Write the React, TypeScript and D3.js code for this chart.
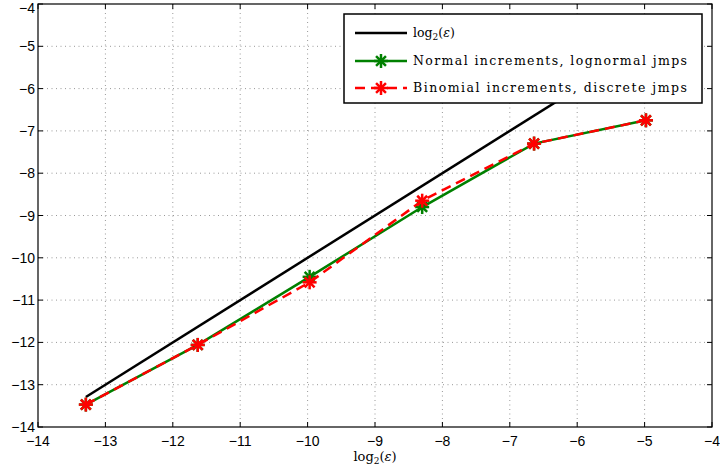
import React from "react";
import * as d3 from "d3";

// x positions (log2 of step size)
const xVals = [-13.29, -11.63, -9.97, -8.3, -6.64, -4.98];
const refLine = [-13.29, -4.98]; // y = x
const normalErr = [-13.47, -12.06, -10.45, -8.8, -7.3, -6.75];
const binomErr = [-13.47, -12.06, -10.58, -8.65, -7.3, -6.75];
const xTicks = [-14, -13, -12, -11, -10, -9, -8, -7, -6, -5, -4];
const yTicks = [-14, -13, -12, -11, -10, -9, -8, -7, -6, -5, -4];
const legendLabels = ["Normal increments, lognormal jmps", "Binomial increments, discrete jmps"];

const W = 720;
const H = 474;
const m = { left: 38, right: 8, top: 4, bottom: 47 };

const Star = ({ x, y, color, r = 7 }: { x: number; y: number; color: string; r?: number }) => {
  const d = r * Math.SQRT1_2;
  return (
    <g stroke={color} strokeWidth={2.5} strokeLinecap="butt">
      <line x1={x - r} y1={y} x2={x + r} y2={y} />
      <line x1={x} y1={y - r} x2={x} y2={y + r} />
      <line x1={x - d} y1={y - d} x2={x + d} y2={y + d} />
      <line x1={x - d} y1={y + d} x2={x + d} y2={y - d} />
    </g>
  );
};

const minus = (v: number) => String(v).replace("-", "\u2212");

export default function App() {
  const x = d3.scaleLinear().domain([-14, -4]).range([m.left, W - m.right]);
  const y = d3.scaleLinear().domain([-14, -4]).range([H - m.bottom, m.top]);
  const line = d3
    .line<[number, number]>()
    .x((d) => x(d[0]))
    .y((d) => y(d[1]));

  const normalPts = xVals.map((v, i) => [v, normalErr[i]] as [number, number]);
  const binomPts = xVals.map((v, i) => [v, binomErr[i]] as [number, number]);
  const refPts = refLine.map((v) => [v, v] as [number, number]);

  const x0 = m.left, x1 = W - m.right, y0 = m.top, y1 = H - m.bottom;
  const tick = 5;

  const lgX = 344, lgY = 14, lgW = 358, lgH = 89;
  const rowY = [33, 61, 88];

  return (
    <svg width={W} height={H} style={{ position: "absolute", left: 0, top: 0, background: "#fff" }}
      fontFamily="'Liberation Sans', Arial, sans-serif">
      <rect x={0} y={0} width={W} height={H} fill="#fff" />
      {/* grid */}
      <g stroke="#999" strokeWidth={1} strokeDasharray="1 3.5">
        {xTicks.slice(1, -1).map((t) => (
          <line key={"gx" + t} x1={x(t)} x2={x(t)} y1={y0} y2={y1} />
        ))}
        {yTicks.slice(1, -1).map((t) => (
          <line key={"gy" + t} y1={y(t)} y2={y(t)} x1={x0} x2={x1} />
        ))}
      </g>
      {/* ticks on all sides */}
      <g stroke="#000" strokeWidth={1}>
        {xTicks.map((t) => (
          <g key={"tx" + t}>
            <line x1={x(t)} x2={x(t)} y1={y1} y2={y1 - tick} />
            <line x1={x(t)} x2={x(t)} y1={y0} y2={y0 + tick} />
          </g>
        ))}
        {yTicks.map((t) => (
          <g key={"ty" + t}>
            <line y1={y(t)} y2={y(t)} x1={x0} x2={x0 + tick} />
            <line y1={y(t)} y2={y(t)} x1={x1} x2={x1 - tick} />
          </g>
        ))}
      </g>
      {/* data */}
      <path d={line(refPts) || ""} fill="none" stroke="#000" strokeWidth={2.5} />
      <path d={line(normalPts) || ""} fill="none" stroke="#008000" strokeWidth={2.5} />
      {normalPts.map((p, i) => (
        <Star key={"n" + i} x={x(p[0])} y={y(p[1])} color="#008000" />
      ))}
      <path d={line(binomPts) || ""} fill="none" stroke="#ff0000" strokeWidth={2.5} strokeDasharray="10 6" />
      {binomPts.map((p, i) => (
        <Star key={"b" + i} x={x(p[0])} y={y(p[1])} color="#ff0000" />
      ))}
      {/* box */}
      <rect x={x0} y={y0} width={x1 - x0} height={y1 - y0} fill="none" stroke="#000" strokeWidth={1.2} />
      {/* tick labels */}
      <g fontSize={14} fill="#000">
        {xTicks.map((t) => (
          <text key={"lx" + t} x={x(t)} y={y1 + 19} textAnchor="middle">{minus(t)}</text>
        ))}
        {yTicks.map((t) => (
          <text key={"ly" + t} x={x0 - 3} y={Math.max(y(t) + 5, 13)} textAnchor="end">{minus(t)}</text>
        ))}
      </g>
      {/* x title */}
      <text x={(x0 + x1) / 2} y={y1 + 34} textAnchor="middle" fontFamily="'DejaVu Serif', serif" fontSize={13}>
        log<tspan fontSize={9} dy={3}>2</tspan><tspan dy={-3}>(</tspan><tspan fontStyle="italic">ε</tspan>)
      </text>
      {/* legend */}
      <rect x={lgX} y={lgY} width={lgW} height={lgH} fill="#fff" stroke="#000" strokeWidth={1.5} />
      <line x1={355} x2={407} y1={rowY[0]} y2={rowY[0]} stroke="#000" strokeWidth={2.5} />
      <line x1={355} x2={407} y1={rowY[1]} y2={rowY[1]} stroke="#008000" strokeWidth={2.5} />
      <Star x={381} y={rowY[1]} color="#008000" />
      <line x1={355} x2={407} y1={rowY[2]} y2={rowY[2]} stroke="#ff0000" strokeWidth={2.5} strokeDasharray="10 6" />
      <Star x={381} y={rowY[2]} color="#ff0000" />
      <g fontFamily="'DejaVu Serif', serif" fontSize={12.5} fill="#000">
        <text x={413} y={rowY[0] + 4}>
          log<tspan fontSize={9} dy={3}>2</tspan><tspan dy={-3}>(</tspan><tspan fontStyle="italic">ε</tspan>)
        </text>
        {legendLabels.map((l, i) => (
          <text key={l} x={413} y={rowY[i + 1] + 4} textLength={274} lengthAdjust="spacing">{l}</text>
        ))}
      </g>
    </svg>
  );
}
